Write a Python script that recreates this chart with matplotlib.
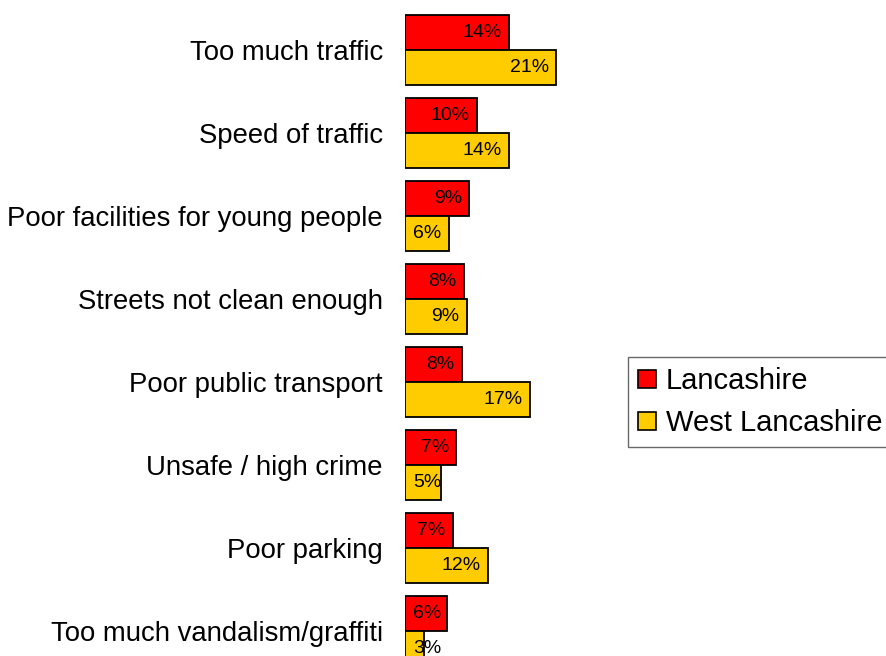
import matplotlib.pyplot as plt
import numpy as np
from matplotlib.patches import Patch

plt.rcParams['font.family'] = ['Liberation Sans', 'DejaVu Sans']

# data
categories = ["Too much traffic", "Speed of traffic", "Poor facilities for young people",
              "Streets not clean enough", "Poor public transport", "Unsafe / high crime",
              "Poor parking", "Too much vandalism/graffiti"]
lancs = [14.4, 10.0, 8.9, 8.2, 7.9, 7.1, 6.6, 5.8]
west_lancs = [21.0, 14.4, 6.1, 8.6, 17.4, 5.0, 11.5, 2.6]
series_names = ["Lancashire", "West Lancashire"]
colors = ["#FF0000", "#FFCC00"]

fig = plt.figure(figsize=(8.87, 6.56), dpi=100)
ax = fig.add_axes([405 / 887, 0, 200 / 887, 1])

y = np.arange(len(categories))
h = 0.42
ax.barh(y - h / 2, lancs, height=h, color=colors[0], edgecolor="black", linewidth=1.3)
ax.barh(y + h / 2, west_lancs, height=h, color=colors[1], edgecolor="black", linewidth=1.3)

# value labels inside the bar end
for vals, off in [(lancs, -h / 2), (west_lancs, h / 2)]:
    for yi, v in zip(y, vals):
        txt = "%d%%" % round(v)
        if v < 6.2:
            ax.text(1.1, yi + off, txt, ha="left", va="center", fontsize=14)
        else:
            ax.text(v - 1.0, yi + off, txt, ha="right", va="center", fontsize=14)

ax.set_xlim(0, 200 / 7.2)
ax.set_ylim((656 - 50) / 83, -50 / 83)
ax.set_yticks(y)
ax.set_yticklabels(categories, fontsize=19.8)
ax.tick_params(axis="y", length=0, pad=16)
ax.set_xticks([])
for s in ax.spines.values():
    s.set_visible(False)

handles = [Patch(facecolor=c, edgecolor="black", linewidth=1.2) for c in colors]
leg = fig.legend(handles, series_names, loc="upper left",
                 bbox_to_anchor=(628 / 887, 1 - 357 / 656), fontsize=21,
                 frameon=True, fancybox=False, handlelength=0.6, handleheight=0.6,
                 handletextpad=0.35, borderpad=0.35, labelspacing=0.48, borderaxespad=0)
leg.get_frame().set_edgecolor("#444444")
leg.get_frame().set_linewidth(1.0)

fig.savefig("out.png", dpi=100)
